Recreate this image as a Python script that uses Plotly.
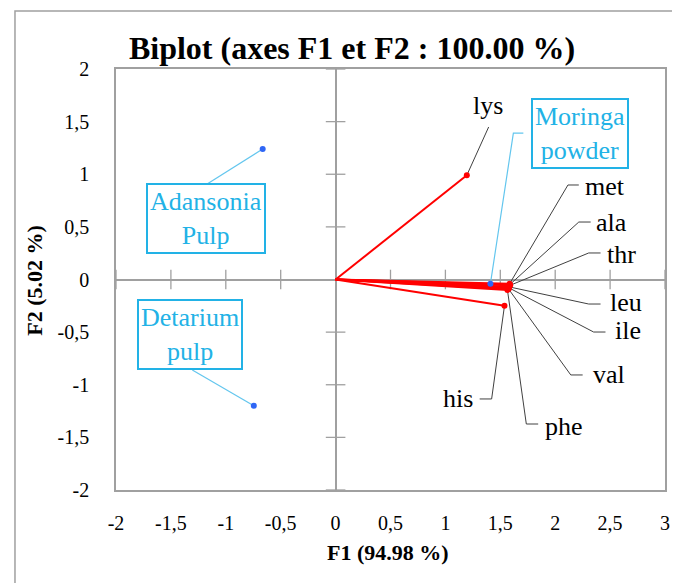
import plotly.graph_objects as go

# ---- data ----
var_names = ["lys", "met", "ala", "thr", "leu", "ile", "val", "his", "phe"]
var_f1 = [1.195, 1.585, 1.585, 1.59, 1.58, 1.58, 1.575, 1.538, 1.565]
var_f2 = [0.99, -0.04, -0.05, -0.055, -0.07, -0.08, -0.09, -0.25, -0.10]

sample_names = ["Adansonia<br>Pulp", "Detarium<br>pulp", "Moringa<br>powder"]
sample_f1 = [-0.664, -0.745, 1.41]
sample_f2 = [1.24, -1.20, -0.04]

x_tickvals = [-2, -1.5, -1, -0.5, 0, 0.5, 1, 1.5, 2, 2.5, 3]
x_ticktext = ["-2", "-1,5", "-1", "-0,5", "0", "0,5", "1", "1,5", "2", "2,5", "3"]
y_tickvals = [-2, -1.5, -1, -0.5, 0, 0.5, 1, 1.5, 2]
y_ticktext = ["-2", "-1,5", "-1", "-0,5", "0", "0,5", "1", "1,5", "2"]

# ---- layout positions for labels (leader elbow, leader end, text anchor) ----
var_label_layout = {
    "lys": dict(elbow=(1.394, 1.449), end=(1.394, 1.449), text=(1.39, 1.50), xanchor="center", yanchor="bottom"),
    "met": dict(elbow=(2.116, 0.898), end=(2.215, 0.898), text=(2.251, 0.879), xanchor="left", yanchor="middle"),
    "ala": dict(elbow=(2.215, 0.546), end=(2.323, 0.546), text=(2.350, 0.537), xanchor="left", yanchor="middle"),
    "thr": dict(elbow=(2.305, 0.252), end=(2.413, 0.252), text=(2.458, 0.233), xanchor="left", yanchor="middle"),
    "leu": dict(elbow=(2.305, -0.233), end=(2.413, -0.233), text=(2.477, -0.223), xanchor="left", yanchor="middle"),
    "ile": dict(elbow=(2.350, -0.499), end=(2.458, -0.499), text=(2.522, -0.489), xanchor="left", yanchor="middle"),
    "val": dict(elbow=(2.142, -0.907), end=(2.250, -0.907), text=(2.323, -0.898), xanchor="left", yanchor="middle"),
    "his": dict(elbow=(1.421, -1.135), end=(1.312, -1.135), text=(1.267, -1.135), xanchor="right", yanchor="middle"),
    "phe": dict(elbow=(1.737, -1.373), end=(1.845, -1.373), text=(1.890, -1.392), xanchor="left", yanchor="middle"),
}
sample_label_layout = [
    dict(elbow=(-1.170, 0.907), end=(-1.170, 0.907), box=(-1.178, 0.575)),
    dict(elbow=(-1.305, -0.860), end=(-1.305, -0.860), box=(-1.323, -0.518)),
    dict(elbow=(1.619, 1.391), end=(1.710, 1.391), box=(2.224, 1.391)),
]

RED = "#FF0000"
BLUE_DOT = "#2F66F5"
CYAN = "#22B2E6"
CYAN_LINE = "#63C6EE"
GRAY = "#A0A0A0"
LEADER = "#404040"
FONT = "Liberation Serif"

fig = go.Figure()

# leader lines for variables
for n, x, y in zip(var_names, var_f1, var_f2):
    L = var_label_layout[n]
    fig.add_trace(go.Scatter(x=[x, L["elbow"][0], L["end"][0]], y=[y, L["elbow"][1], L["end"][1]],
                             mode="lines", line=dict(color=LEADER, width=1), hoverinfo="skip", showlegend=False))

# leader lines for samples
for x, y, L in zip(sample_f1, sample_f2, sample_label_layout):
    fig.add_trace(go.Scatter(x=[x, L["elbow"][0], L["end"][0]], y=[y, L["elbow"][1], L["end"][1]],
                             mode="lines", line=dict(color=CYAN_LINE, width=1.2), hoverinfo="skip", showlegend=False))

# tick marks crossing the zero axes
fig.add_trace(go.Scatter(x=[v for v in x_tickvals if v != 0], y=[0] * (len(x_tickvals) - 1), mode="markers",
                         marker=dict(symbol="line-ns-open", size=14, color=GRAY, line=dict(color=GRAY, width=1.3)),
                         hoverinfo="skip", showlegend=False))
fig.add_trace(go.Scatter(x=[0] * (len(y_tickvals) - 1), y=[v for v in y_tickvals if v != 0], mode="markers",
                         marker=dict(symbol="line-ew-open", size=14, color=GRAY, line=dict(color=GRAY, width=1.3)),
                         hoverinfo="skip", showlegend=False))

# variable vectors
for n, x, y in zip(var_names, var_f1, var_f2):
    fig.add_trace(go.Scatter(x=[0, x], y=[0, y], mode="lines", line=dict(color=RED, width=2),
                             name=n, showlegend=False))
fig.add_trace(go.Scatter(x=var_f1, y=var_f2, mode="markers", marker=dict(color=RED, size=6),
                         text=var_names, showlegend=False))

# sample points
fig.add_trace(go.Scatter(x=sample_f1, y=sample_f2, mode="markers", marker=dict(color=BLUE_DOT, size=6),
                         text=sample_names, showlegend=False))

annotations = []
for n in var_names:
    L = var_label_layout[n]
    annotations.append(dict(x=L["text"][0], y=L["text"][1], xref="x", yref="y", text=n, showarrow=False,
                            xanchor=L["xanchor"], yanchor=L["yanchor"],
                            font=dict(family=FONT, size=26, color="#000000")))
for s, L in zip(sample_names, sample_label_layout):
    annotations.append(dict(x=L["box"][0], y=L["box"][1], xref="x", yref="y", text=s, showarrow=False,
                            xanchor="center", yanchor="middle", align="center",
                            font=dict(family=FONT, size=26, color=CYAN),
                            bordercolor=CYAN, borderwidth=2, borderpad=2, bgcolor="white"))

# axis titles
annotations.append(dict(x=0.4946, y=-0.1496, xref="paper", yref="paper", text="<b>F1 (94.98 %)</b>",
                        showarrow=False, xanchor="center", yanchor="middle",
                        font=dict(family=FONT, size=22, color="#000000")))
annotations.append(dict(x=-0.1498, y=0.4988, xref="paper", yref="paper", text="<b>F2 (5.02 %)</b>",
                        showarrow=False, xanchor="center", yanchor="middle", textangle=-90,
                        font=dict(family=FONT, size=22, color="#000000")))

W, H = 672, 575
fig.update_layout(
    width=W, height=H,
    margin=dict(l=108, r=10, t=61, b=93),
    paper_bgcolor="white", plot_bgcolor="white",
    title=dict(text="<b>Biplot (axes F1 et F2 : 100.00 %)</b>", x=344 / W, xanchor="center",
               y=1 - 40 / H, yanchor="middle", yref="container",
               font=dict(family=FONT, size=32, color="#000000")),
    annotations=annotations,
    shapes=[dict(type="path", xref="paper", yref="paper",
                 path="M -0.184 -0.3 L -0.184 1.1378 L 1.2 1.1378",
                 line=dict(color=GRAY, width=1.5))],
    xaxis=dict(range=[-2, 3], tickvals=x_tickvals, ticktext=x_ticktext, showgrid=False,
               zeroline=True, zerolinecolor=GRAY, zerolinewidth=1.5,
               showline=True, mirror=True, linecolor=GRAY, linewidth=1.5, ticks="",
               ticklabelstandoff=14, tickfont=dict(family=FONT, size=20, color="#000000")),
    yaxis=dict(range=[-2, 2], tickvals=y_tickvals, ticktext=y_ticktext, showgrid=False,
               zeroline=True, zerolinecolor=GRAY, zerolinewidth=1.5,
               showline=True, mirror=True, linecolor=GRAY, linewidth=1.5, ticks="",
               ticklabelstandoff=21, tickfont=dict(family=FONT, size=20, color="#000000")),
)

fig.write_html("out.html")
